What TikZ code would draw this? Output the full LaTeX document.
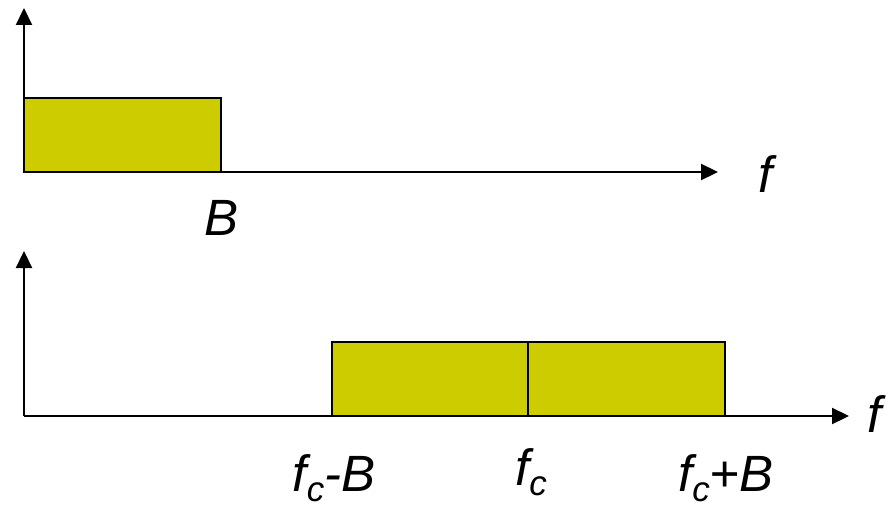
\documentclass[tikz,border=0pt]{standalone}
\usepackage{fontspec}
\setmainfont{Liberation Sans}
\usetikzlibrary{arrows.meta, positioning}
\definecolor{bandyellow}{RGB}{204,204,0}
\newcommand{\lowsub}[1]{\raisebox{-0.2em}{\fontsize{35}{35}\selectfont #1}}
\tikzset{
  axis/.style={-{Triangle[length=17pt, width=16pt]}, line width=2.2pt},
  band/.style={draw, fill=bandyellow, line width=1.8pt},
  lbl/.style={font=\fontsize{51}{51}\selectfont\itshape, anchor=base, inner sep=0pt},
}

\begin{document}
\begin{tikzpicture}[x=1pt, y=-1pt]
  \useasboundingbox (0,0) rectangle (893,508);

  % Baseband spectrum
  \coordinate (o1) at (24,172);
  \coordinate (y1) at (24,8);
  \coordinate (x1) at (718,172);
  \filldraw[band] (24,98) rectangle (221,172);
  \draw[axis] (o1) -- (y1);
  \draw[axis] (o1) -- (x1);
  \node[lbl] (B) at (222,235) {B};
  \node[lbl] (f1) at (766,192) {f};

  % Passband spectrum
  \coordinate (o2) at (24,416);
  \coordinate (y2) at (24,251);
  \coordinate (x2) at (849,416);
  \filldraw[band] (332,342) rectangle (528,416);
  \filldraw[band] (528,342) rectangle (725,416);
  \draw[axis] (o2) -- (y2);
  \draw[axis] (o2) -- (x2);
  \node[lbl] (lo) at (334,491) {f\lowsub{c}-B};
  \node[lbl] (fc) at (531,485) {f\lowsub{c}};
  \node[lbl] (hi) at (726,491) {f\lowsub{c}+B};
  \node[lbl] (f2) at (875,432) {f};
\end{tikzpicture}
\end{document}
